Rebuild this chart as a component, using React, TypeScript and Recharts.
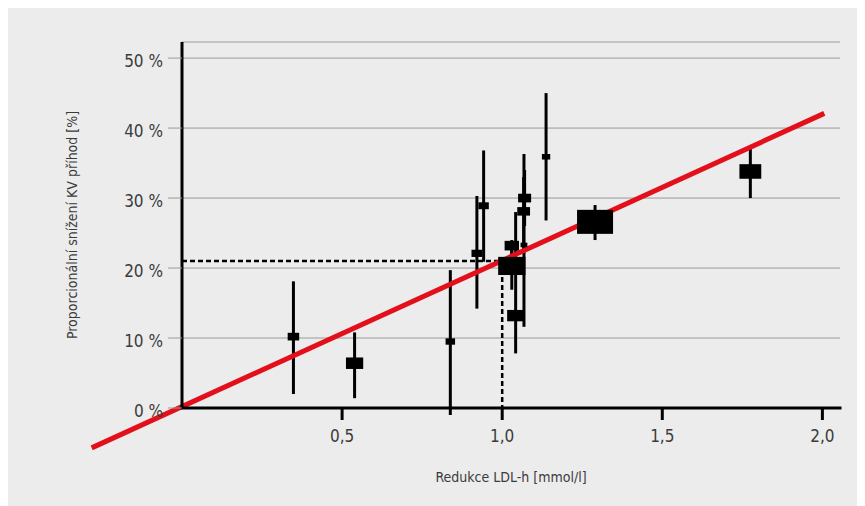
import { ScatterChart, Scatter, XAxis, YAxis, CartesianGrid, ReferenceLine } from "recharts";

// studies: LDL-C reduction (mmol/l) vs proportional CV event reduction (%)
const studyX = [0.348, 0.539, 0.838, 0.921, 0.942, 1.030, 1.068, 1.030, 1.042, 1.070, 1.067, 1.137, 1.290, 1.775];
const studyY = [10.2, 6.4, 9.5, 22.1, 28.9, 23.2, 23.3, 20.3, 13.2, 30.0, 28.1, 35.9, 26.6, 33.8];
const ciLow = [2.0, 1.4, -1.0, 14.2, 20.9, 21.0, 11.6, 16.9, 7.8, 26.0, 22.0, 26.8, 24.0, 30.0];
const ciHigh = [18.1, 10.8, 19.7, 30.3, 36.8, 24.0, 36.3, 22.5, 28.0, 34.0, 33.0, 45.0, 29.0, 37.1];
const studyWeight = [8.8, 19.8, 6.0, 7.8, 7.2, 13.8, 3.1, 49.5, 19.3, 11.3, 10.9, 4.6, 86.4, 31.8];

// regression line end points
const fitX = [-0.282, 2.006];
const fitY = [-5.7, 42.1];

// 1 mmol/l -> ~21 % marker
const refX = 1.0;
const refY = 21;

const xTicks = [0.5, 1.0, 1.5, 2.0];
const yTicks = [0, 10, 20, 30, 40, 50];

const FONT = '"Liberation Sans Narrow", "DejaVu Sans Condensed", "Roboto Condensed", sans-serif';
const TEXT = "#3b3b3b";

const data = studyX.map((x, i) => ({
  x,
  y: studyY[i],
  low: ciLow[i],
  high: ciHigh[i],
  weight: studyWeight[i],
}));

const WeightBox = (props: any) => {
  const { cx, cy, payload } = props;
  const area = payload.weight * 10;
  const w = Math.sqrt(area * 1.5);
  const h = Math.sqrt(area / 1.5);
  return <rect x={cx - w / 2} y={cy - h / 2} width={w} height={h} fill="#000" />;
};

const fmtPct = (v: number) => `${v} %`;
const fmtDec = (v: number) => v.toFixed(1).replace(".", ",");

export default function App() {
  return (
    <div style={{ width: 857, height: 498, background: "#ececec" }}>
      <ScatterChart width={857} height={498} margin={{ top: 34, right: 25, bottom: 19, left: 59 }}>
        <CartesianGrid vertical={false} stroke="#9a9a9a" />
        <XAxis
          type="number"
          dataKey="x"
          domain={[0, 2.055]}
          ticks={xTicks}
          tickFormatter={fmtDec}
          height={79}
          axisLine={{ stroke: "#000", strokeWidth: 3, strokeLinecap: "square" }}
          tickLine={{ stroke: "#000", strokeWidth: 3 }}
          tickSize={12}
          tickMargin={10}
          tick={{ fontSize: 17, fill: TEXT, fontFamily: FONT }}
          label={{
            value: "Redukce LDL-h [mmol/l]",
            position: "insideBottom",
            offset: 5,
            style: { fontSize: 14, fill: TEXT, fontFamily: FONT },
          }}
        />
        <YAxis
          type="number"
          dataKey="y"
          domain={[0, 52.3]}
          ticks={yTicks}
          tickFormatter={fmtPct}
          width={115}
          axisLine={{ stroke: "#000", strokeWidth: 3 }}
          tickLine={{ stroke: "#9a9a9a", strokeWidth: 1 }}
          tickSize={14}
          tickMargin={5}
          tick={{ fontSize: 17, fill: TEXT, fontFamily: FONT, dy: 3 }}
          label={{
            value: "Proporcionální snížení KV příhod [%]",
            angle: -90,
            position: "insideLeft",
            offset: 5,
            style: { textAnchor: "middle", fontSize: 14, fill: TEXT, fontFamily: FONT },
          }}
        />
        <ReferenceLine
          segment={[{ x: 0, y: refY }, { x: refX, y: refY }]}
          stroke="#000"
          strokeWidth={2.5}
          strokeDasharray="5 3"
          ifOverflow="visible"
        />
        <ReferenceLine
          segment={[{ x: refX, y: refY }, { x: refX, y: 0 }]}
          stroke="#000"
          strokeWidth={2.5}
          strokeDasharray="5 3"
          ifOverflow="visible"
        />
        {data.map((d, i) => (
          <ReferenceLine
            key={i}
            segment={[{ x: d.x, y: d.low }, { x: d.x, y: d.high }]}
            stroke="#000"
            strokeWidth={3}
            ifOverflow="visible"
          />
        ))}
        <Scatter data={data} shape={<WeightBox />} isAnimationActive={false} />
        <ReferenceLine
          segment={[{ x: fitX[0], y: fitY[0] }, { x: fitX[1], y: fitY[1] }]}
          stroke="#e3101c"
          strokeWidth={5}
          ifOverflow="visible"
        />
      </ScatterChart>
    </div>
  );
}
